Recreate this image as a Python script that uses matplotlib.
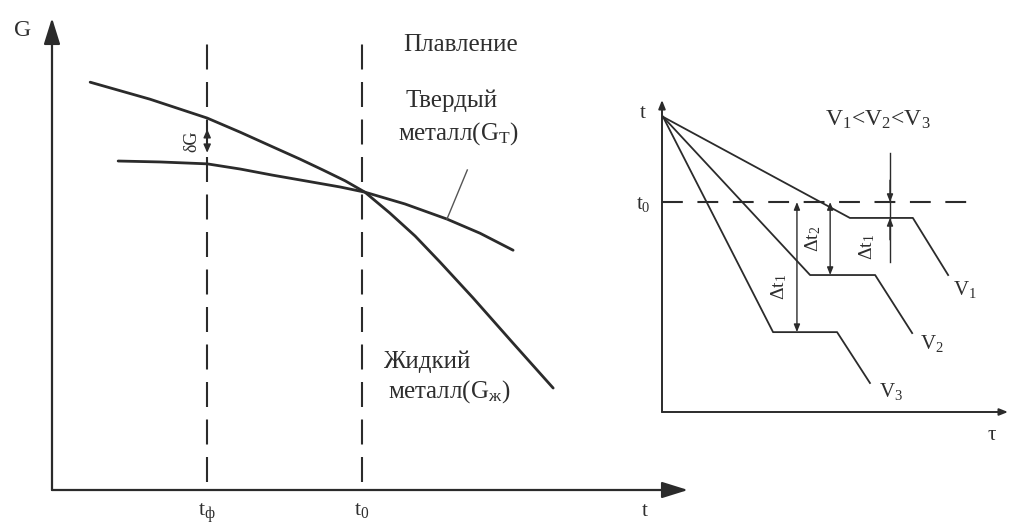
import numpy as np
import matplotlib
matplotlib.use('Agg')
import matplotlib.pyplot as plt

plt.rcParams['font.family'] = ['Liberation Serif', 'DejaVu Serif']
plt.rcParams['mathtext.fontset'] = 'custom'
plt.rcParams['mathtext.rm'] = 'Liberation Serif'
plt.rcParams['mathtext.it'] = 'Liberation Serif'

W, H = 1009, 528
ink = '#2b2b2b'
txt = '#2e2e2e'

# left panel: free energy G vs temperature t (arbitrary units 0..100)
liquid_t = [6.0, 15.4, 24.4, 29.6, 34.7, 39.0, 42.6, 46.1, 49.2,
            53.1, 57.1, 61.0, 66.2, 72.5, 78.8]
liquid_G = [86.4, 82.8, 78.8, 75.8, 72.7, 70.1, 67.8, 65.5, 63.1,
            58.7, 53.8, 48.3, 40.7, 31.1, 21.6]
solid_t = [10.4, 17.0, 24.4, 29.6, 34.7, 39.8, 45.3, 49.2, 55.5, 62.1, 67.3, 72.5]
solid_G = [69.7, 69.5, 69.1, 68.0, 66.7, 65.5, 64.2, 63.1, 60.6, 57.4, 54.4, 50.8]
t_f, t_0 = 24.4, 48.7
vline_G = [1.7, 95.3]
leader_t = [62.1, 65.3]
leader_G = [57.4, 67.8]

# right panel: cooling curves t vs tau
v1_tau = [0.3, 54.3, 72.5, 82.7]
v1_t = [94.6, 62.2, 62.2, 43.9]
v2_tau = [0.3, 42.8, 61.6, 72.3]
v2_t = [94.6, 43.9, 43.9, 25.3]
v3_tau = [0.3, 32.1, 50.6, 60.1]
v3_t = [94.6, 25.6, 25.6, 9.3]
t0_level = 67.3
t0_tau = [0, 88.2]
dt_long_tau, dt_mid_tau, dt_short_tau = 39.0, 48.6, 65.9

fig = plt.figure(figsize=(W / 100, H / 100), dpi=100)


def box(x0, y0, x1, y1):
    return [x0 / W, 1 - y1 / H, (x1 - x0) / W, (y1 - y0) / H]


# ---------- left ----------
ax = fig.add_axes(box(52, 18, 688, 490))
ax.set_xlim(0, 100)
ax.set_ylim(0, 100)
for s in ax.spines.values():
    s.set_visible(False)
arr = dict(arrowstyle='-|>,head_length=1.6,head_width=0.5', color=ink, lw=1.6,
           shrinkA=0, shrinkB=0)
ax.annotate('', xy=(0, 100), xytext=(0, 0), arrowprops=arr)
ax.annotate('', xy=(100, 0), xytext=(0, 0), arrowprops=arr)

ax.plot(liquid_t, liquid_G, color=ink, lw=2.0, solid_capstyle='round',
        solid_joinstyle='round')
ax.plot(solid_t, solid_G, color=ink, lw=2.0, solid_capstyle='round',
        solid_joinstyle='round')
for x in (t_f, t_0):
    ax.plot([x, x], vline_G, color=ink, lw=1.5, dashes=(12, 6))
ax.plot(leader_t, leader_G, color='#555555', lw=1.0)

# delta G arrow at t_f
gi = liquid_G[liquid_t.index(t_f)]
gs = solid_G[solid_t.index(t_f)]
ax.annotate('', xy=(t_f, gi), xytext=(t_f, gs),
            arrowprops=dict(arrowstyle='<|-|>,head_length=0.5,head_width=0.22',
                            color=ink, lw=1.0, shrinkA=8, shrinkB=8))
ax.text(t_f - 2.4, (gi + gs) / 2, 'δG', rotation=90, ha='center', va='center',
        fontsize=13, color=txt)

ax.set_xticks([t_f, t_0])
ax.set_xticklabels([r'$\mathrm{t_{ф}}$', r'$\mathrm{t_{0}}$'], fontsize=16, color=txt)
ax.set_yticks([])
ax.tick_params(axis='x', length=0, pad=8)

fig.text(23 / W, 1 - 30 / H, 'G', fontsize=17, color=txt, ha='center', va='center')
fig.text(645 / W, 1 - 512 / H, 't', fontsize=15, color=txt, ha='center', va='center')
fig.text(403 / W, 1 - 45 / H, 'Плавление', fontsize=18, color=txt, ha='left', va='center')
fig.text(405 / W, 1 - 101 / H, 'Твердый', fontsize=18, color=txt, ha='left', va='center')
fig.text(398 / W, 1 - 134 / H, r'металл(G$_\mathrm{Т}$)', fontsize=18, color=txt,
         ha='left', va='center')
fig.text(383 / W, 1 - 362 / H, 'Жидкий', fontsize=18, color=txt, ha='left', va='center')
fig.text(388 / W, 1 - 392 / H, r'металл(G$_\mathrm{ж}$)', fontsize=18, color=txt,
         ha='left', va='center')

# ---------- right ----------
ax2 = fig.add_axes(box(662, 100, 1008, 412))
ax2.set_xlim(0, 100)
ax2.set_ylim(0, 100)
for s in ax2.spines.values():
    s.set_visible(False)
arr2 = dict(arrowstyle='-|>,head_length=0.5,head_width=0.2', color=ink, lw=1.4,
            shrinkA=0, shrinkB=0)
ax2.annotate('', xy=(0, 100), xytext=(0, 0), arrowprops=arr2)
ax2.annotate('', xy=(100, 0), xytext=(0, 0), arrowprops=arr2)

for tau, tt in ((v1_tau, v1_t), (v2_tau, v2_t), (v3_tau, v3_t)):
    ax2.plot(tau, tt, color=ink, lw=1.3)
ax2.plot(t0_tau, [t0_level, t0_level], color=ink, lw=1.5, dashes=(10, 7))

small = dict(arrowstyle='<|-|>,head_length=0.45,head_width=0.18', color=ink,
             lw=1.0, shrinkA=0, shrinkB=0)
ax2.annotate('', xy=(dt_long_tau, t0_level), xytext=(dt_long_tau, v3_t[1]),
             arrowprops=small)
ax2.annotate('', xy=(dt_mid_tau, t0_level), xytext=(dt_mid_tau, v2_t[1]),
             arrowprops=small)
# external dimension for the smallest undercooling
ax2.plot([dt_short_tau, dt_short_tau], [83.0, 48.0], color=ink, lw=1.0)
one = dict(arrowstyle='-|>,head_length=0.45,head_width=0.18', color=ink, lw=1.0,
           shrinkA=0, shrinkB=0)
ax2.annotate('', xy=(dt_short_tau, t0_level), xytext=(dt_short_tau, t0_level + 7),
             arrowprops=one)
ax2.annotate('', xy=(dt_short_tau, v1_t[1]), xytext=(dt_short_tau, v1_t[1] - 7),
             arrowprops=one)

ax2.text(dt_long_tau - 5.2, 40.0, r'Δt$_1$', rotation=90, ha='center', va='center',
         fontsize=14, color=txt)
ax2.text(dt_mid_tau - 4.9, 55.5, r'Δt$_2$', rotation=90, ha='center', va='center',
         fontsize=14, color=txt)
ax2.text(dt_short_tau - 6.6, 53.0, r'Δt$_1$', rotation=90, ha='center', va='center',
         fontsize=14, color=txt)
ax2.text(v1_tau[-1] + 1.5, v1_t[-1] - 4.5, r'V$_1$', fontsize=15, color=txt,
         ha='left', va='center')
ax2.text(v2_tau[-1] + 2.3, v2_t[-1] - 3.2, r'V$_2$', fontsize=15, color=txt,
         ha='left', va='center')
ax2.text(v3_tau[-1] + 2.5, v3_t[-1] - 2.6, r'V$_3$', fontsize=15, color=txt,
         ha='left', va='center')
ax2.text(62.5, 93.5, r'V$_1$<V$_2$<V$_3$', fontsize=17, color=txt,
         ha='center', va='center')

ax2.set_xticks([])
ax2.set_yticks([t0_level])
ax2.set_yticklabels([r'$\mathrm{t_0}$'], fontsize=15, color=txt)
ax2.tick_params(axis='y', length=0, pad=8)

fig.text(643 / W, 1 - 113 / H, 't', fontsize=15, color=txt, ha='center', va='center')
fig.text(992 / W, 1 - 435 / H, 'τ', fontsize=15, color=txt, ha='center', va='center')

fig.savefig('out.png', dpi=100, facecolor='white')
